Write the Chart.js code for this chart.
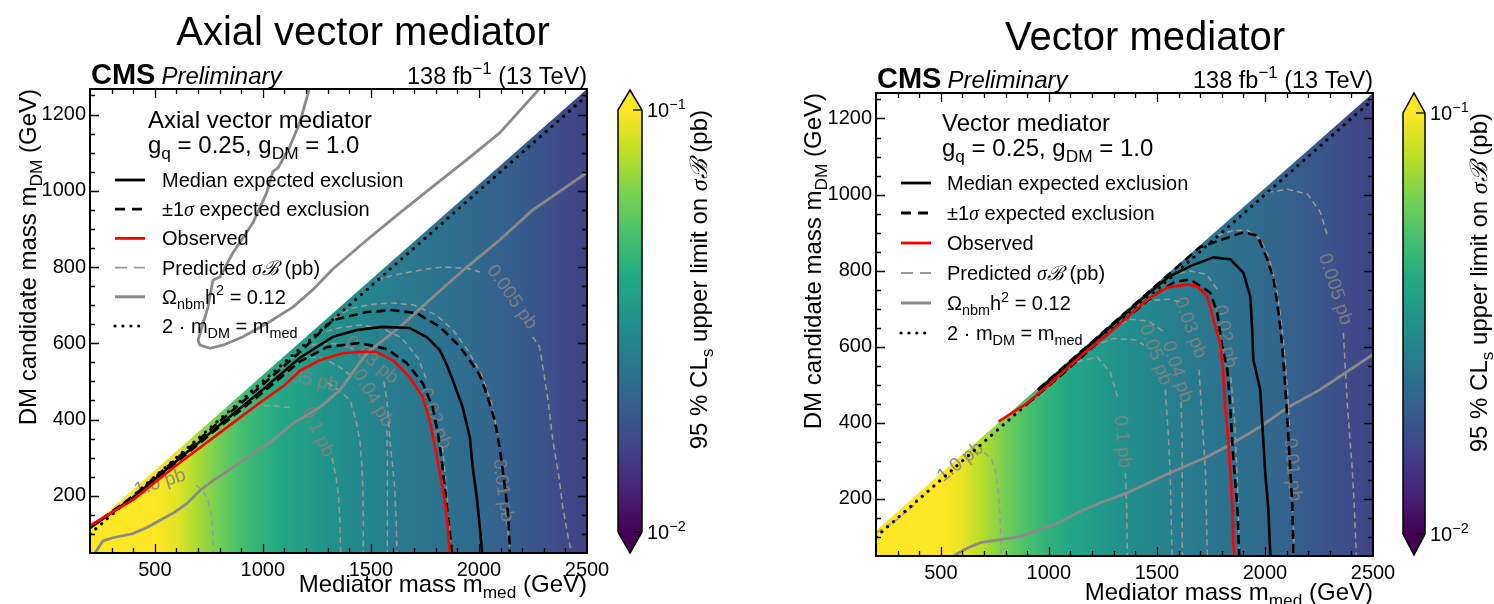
<!DOCTYPE html>
<html><head><meta charset="utf-8">
<script src="https://cdn.jsdelivr.net/npm/chart.js@4.4.1/dist/chart.umd.min.js"></script>
<style>
html,body{margin:0;padding:0;background:#fff;}
#wrap{position:relative;width:1494px;height:604px;overflow:hidden;background:#fff;}
canvas{position:absolute;top:0;}
</style></head><body>
<div id="wrap"><canvas id="cA" width="747" height="604" style="left:0;width:747px;height:604px"></canvas><canvas id="cV" width="747" height="604" style="left:747px;width:747px;height:604px"></canvas></div>
<script>
// ================= DATA =================
const xMajorTicks = [500, 1000, 1500, 2000, 2500];
const yMajorTicks = [200, 400, 600, 800, 1000, 1200];
const cbarTicks = [0.01, 0.1];

// heat-map: 95% CLs upper limit (pb) per mediator-mass column
const medGrid = [200,300,400,500,600,700,800,900,1000,1100,1200,1300,1400,1500,1600,1700,1800,1900,2000,2100,2200,2300,2400,2500];
const axialLimit  = [0.112,0.112,0.112,0.105,0.091,0.074,0.060,0.050,0.0437,0.0389,0.0355,0.0324,0.0302,0.0282,0.0263,0.0251,0.0240,0.0229,0.0219,0.0204,0.0191,0.0178,0.0166,0.0155];
const vectorLimit = [0.112,0.112,0.112,0.106,0.093,0.076,0.061,0.051,0.0440,0.0392,0.0357,0.0326,0.0303,0.0283,0.0264,0.0251,0.0240,0.0229,0.0219,0.0205,0.0192,0.0179,0.0167,0.0156];

// ---- Axial vector panel contours [m_med, m_DM] ----
const axialObserved = [[200,122],[400,190],[600,280],[800,365],[1000,450],[1100,490],[1171,528],[1264,556],[1370,574],[1450,578],[1527,577],[1601,556],[1680,511],[1740,459],[1773,398],[1796,329],[1819,259],[1842,188],[1856,117],[1865,50]];
const axialMedian = [[200,116],[400,196],[600,291],[800,386],[1000,479],[1171,562],[1324,617],[1435,635],[1555,643],[1680,640],[1759,616],[1819,582],[1850,545],[1879,503],[1925,432],[1958,353],[1971,275],[1990,196],[2004,117],[2015,50]];
const axialMinus1 = [[200,117],[400,195],[600,288],[800,381],[1000,471],[1171,552],[1296,590],[1449,601],[1574,585],[1666,548],[1740,495],[1786,432],[1810,364],[1828,293],[1842,222],[1856,153],[1870,82],[1875,50]];
const axialPlus1 = [[200,118],[400,199],[600,297],[800,395],[1000,492],[1171,577],[1324,661],[1481,682],[1601,687],[1712,679],[1819,643],[1911,592],[1970,545],[2004,516],[2040,460],[2073,398],[2095,330],[2110,267],[2125,200],[2133,162],[2140,100],[2143,50]];
const axialRelicA = [[223,50],[260,82],[306,90],[399,101],[464,117],[524,136],[584,154],[649,180],[709,214],[769,240],[861,274],[954,311],[1046,345],[1139,390],[1264,432],[1356,477],[1449,550],[1481,574],[1634,643],[1786,721],[1944,800],[2096,871],[2249,950],[2406,1011],[2500,1048]];
const axialRelicB = [[1215,1268],[1171,1179],[1125,1116],[1070,1060],[1046,1050],[1018,995],[954,916],[861,837],[801,774],[769,766],[746,695],[723,652],[700,608],[709,595],[755,587],[815,595],[908,617],[1018,652],[1139,695],[1230,740],[1324,795],[1481,871],[1634,942],[1786,1011],[1944,1082],[2096,1152],[2249,1248],[2281,1268]];
const axialPred = {
  p1_0:  [[330,168],[372,182],null,[690,228],[720,215],[745,190],[760,155],[768,110],[772,50]],
  p0_1:  [[865,432],[950,436],[1050,436],[1130,431],null,[1320,300],[1338,250],[1350,200],[1356,140],[1360,50]],
  p0_05: [[1020,510],[1080,512],[1110,511],null,[1300,496],[1350,478],[1403,451],[1430,400],[1449,345],[1458,280],[1463,214],[1465,130],[1465,50]],
  p0_04: [[1125,562],[1200,566],[1280,560],[1350,540],[1420,510],null,[1574,372],[1576,300],[1576,200],[1576,50]],
  p0_03: [[1180,590],[1260,600],[1350,598],[1420,585],null,[1560,500],[1574,450],[1588,345],[1600,280],[1611,214],[1617,130],[1620,50]],
  p0_02: [[1250,625],[1350,640],[1450,648],[1550,640],[1640,615],[1720,560],[1760,500],null,[1830,330],[1845,250],[1860,150],[1870,50]],
  p0_01: [[1330,665],[1400,690],[1500,702],[1600,706],[1700,700],[1800,675],[1880,635],[1950,580],[2010,520],[2060,440],[2090,350],null,[2125,160],[2135,100],[2145,50]],
  p0_005:[[1527,766],[1600,778],[1680,787],[1760,795],[1833,800],[1944,797],[2004,787],null,[2249,617],[2281,590],[2320,450],[2342,345],[2370,250],[2388,170],[2410,100],[2429,50]]
};
const axialLabels = [[524,234,-18,'1.0 pb'],[1255,367,65,'0.1 pb'],[1205,505,12,'0.05 pb'],[1509,456,60,'0.04 pb'],[1504,556,40,'0.03 pb'],[1796,403,70,'0.02 pb'],[2110,214,82,'0.01 pb'],[2152,721,55,'0.005 pb']];

// ---- Vector panel contours ----
const vectorObserved = [[767,403],[900,452],[1000,500],[1145,575],[1298,645],[1455,724],[1548,756],[1641,764],[1687,759],[1733,732],[1761,672],[1793,610],[1807,532],[1816,443],[1830,356],[1840,269],[1849,180],[1853,93],[1858,50]];
const vectorMedian = [[950,485],[1050,535],[1150,585],[1250,635],[1350,685],[1450,735],[1550,782],[1654,812],[1761,835],[1839,830],[1900,795],[1932,732],[1941,645],[1946,566],[1978,488],[1992,356],[2001,269],[2015,180],[2025,50]];
const vectorMinus1 = [[900,450],[1050,522],[1200,598],[1350,672],[1500,740],[1580,770],[1654,777],[1747,742],[1779,690],[1802,601],[1826,540],[1839,443],[1853,311],[1872,180],[1881,50]];
const vectorPlus1 = [[950,488],[1100,563],[1250,638],[1400,713],[1550,788],[1700,862],[1808,883],[1900,901],[1965,892],[2011,830],[2040,777],[2063,690],[2080,601],[2095,488],[2109,356],[2118,269],[2127,180],[2132,50]];
const vectorRelic = [[558,50],[623,71],[683,85],[776,93],[868,101],[960,120],[1053,140],[1145,167],[1238,190],[1363,216],[1562,269],[1733,311],[1840,343],[1979,390],[2104,440],[2257,488],[2382,535],[2500,580]];
const vectorPred = {
  p1_0:  [[205,112],[300,147],[390,190],null,[700,322],[735,305],[755,270],[768,210],[775,140],[780,50]],
  p0_1:  [[1090,548],[1145,562],[1224,573],[1285,532],[1317,469],null,[1354,269],[1360,180],[1363,50]],
  p0_05: [[1200,602],[1300,622],[1400,618],[1440,605],null,[1539,488],[1554,356],[1562,250],[1570,50]],
  p0_04: [[1290,650],[1378,672],[1460,668],[1530,640],null,[1612,455],[1617,356],[1617,200],[1617,50]],
  p0_03: [[1400,705],[1480,722],[1560,725],[1605,718],null,[1695,540],[1710,400],[1725,269],[1733,50]],
  p0_02: [[1560,785],[1650,800],[1730,790],[1780,750],null,[1842,520],[1860,400],[1872,250],[1882,50]],
  p0_01: [[1780,892],[1850,905],[1920,906],[1980,882],[2020,832],[2050,765],[2070,690],[2090,590],[2105,480],[2115,380],null,[2128,180],[2133,110],[2136,50]],
  p0_005:[[2011,1006],[2104,1014],[2197,1001],[2257,953],[2290,890],null,[2363,637],[2372,540],[2382,443],[2405,269],[2415,160],[2423,50]]
};
const vectorLabels = [[591,297,-38,'1.0 pb'],[1340,350,85,'0.1 pb'],[1493,579,70,'0.05 pb'],[1594,534,72,'0.04 pb'],[1654,650,70,'0.03 pb'],[1816,627,80,'0.02 pb'],[2127,277,85,'0.01 pb'],[2325,751,72,'0.005 pb']];

// ================= HELPERS =================
const FONT = '"Liberation Sans", Arial, Helvetica, sans-serif';
const SERIF = '"Liberation Serif", "DejaVu Serif", serif';
const VIR = ['#440154','#482475','#414487','#355f8d','#2a788e','#21918c','#22a884','#44bf70','#7ad151','#bddf26','#fde725'];
function hex(h){return [parseInt(h.slice(1,3),16),parseInt(h.slice(3,5),16),parseInt(h.slice(5,7),16)];}
function vir(t){t=Math.max(0,Math.min(1,t));const s=t*10,i=Math.min(9,Math.floor(s)),f=s-i;const a=hex(VIR[i]),b=hex(VIR[i+1]);
  return 'rgb('+a.map((v,k)=>Math.round(v+(b[k]-v)*f)).join(',')+')';}
const cmin=0.01,cmax=0.1;
function tOf(v){return Math.log10(v/cmin)/Math.log10(cmax/cmin);}

function fontFor(s,base){const sz=(s.sub||s.sup)?base*0.72:base;return (s.it?'italic ':'')+(s.b?'bold ':'')+sz+'px '+(s.fam||FONT);}
function richW(ctx,segs,base){let w=0;segs.forEach(s=>{ctx.font=fontFor(s,base);w+=ctx.measureText(s.t).width;});return w;}
function drawRich(ctx,x,y,segs,base,align){
  const w=richW(ctx,segs,base);
  let cx=align==='right'?x-w:align==='center'?x-w/2:x;
  ctx.textBaseline='alphabetic';ctx.textAlign='left';
  segs.forEach(s=>{ctx.font=fontFor(s,base);const dy=s.sub?base*0.26:s.sup?-base*0.42:0;ctx.fillText(s.t,cx,y+dy);cx+=ctx.measureText(s.t).width;});
}
function lineDs(pts,style){
  const out=[];let cur=[];
  pts.forEach(p=>{if(p===null){if(cur.length)out.push(cur);cur=[];}else cur.push({x:p[0],y:p[1]});});
  if(cur.length)out.push(cur);
  return out.map(d=>Object.assign({data:d,showLine:true,pointRadius:0,pointHoverRadius:0,fill:false,tension:0,borderJoinStyle:'round'},style));
}
const ST = {
  red:{borderColor:'#ff0000',borderWidth:2.6},
  med:{borderColor:'#000000',borderWidth:2.6},
  dash:{borderColor:'#000000',borderWidth:2.6,borderDash:[9,5]},
  dot:{borderColor:'#000000',borderWidth:3.2,borderDash:[0.1,7.6],borderCapStyle:'round'},
  relic:{borderColor:'#8a8a8a',borderWidth:2.8},
  pred:{borderColor:'#9a9a9a',borderWidth:1.5,borderDash:[6,4]}
};
const diagLine = [[200,100],[2500,1250]];
const diagEdge = 17;

function makePanel(id, P){
  const ctxEl=document.getElementById(id);
  const ds=[].concat(
    lineDs(P.obs,ST.red), lineDs(P.med,ST.med), lineDs(P.m1,ST.dash), lineDs(P.p1,ST.dash),
    lineDs(diagLine,ST.dot),
    ...P.relic.map(r=>lineDs(r,ST.relic)),
    ...Object.values(P.pred).map(c=>lineDs(c,ST.pred))
  );
  const heat={id:'heat',beforeDatasetsDraw(chart){
    const {ctx,chartArea:a,scales:{x,y}}=chart;
    ctx.save();ctx.beginPath();ctx.rect(a.left,a.top,a.right-a.left,a.bottom-a.top);ctx.clip();
    ctx.beginPath();
    ctx.moveTo(x.getPixelForValue(200),y.getPixelForValue(50));
    ctx.lineTo(x.getPixelForValue(200),y.getPixelForValue(100+diagEdge));
    ctx.lineTo(x.getPixelForValue(2500),y.getPixelForValue(1250+diagEdge));
    ctx.lineTo(x.getPixelForValue(2500),y.getPixelForValue(50));
    ctx.closePath();
    const x0=x.getPixelForValue(medGrid[0]),x1=x.getPixelForValue(medGrid[medGrid.length-1]);
    const g=ctx.createLinearGradient(x0,0,x1,0);
    medGrid.forEach((m,i)=>g.addColorStop((x.getPixelForValue(m)-x0)/(x1-x0),vir(tOf(P.lim[i]))));
    ctx.fillStyle=g;ctx.fill();
    // contour labels
    ctx.fillStyle='rgba(130,130,130,0.9)';ctx.font='19px '+FONT;ctx.textAlign='center';ctx.textBaseline='middle';
    P.labels.forEach(L=>{ctx.save();ctx.translate(x.getPixelForValue(L[0]),y.getPixelForValue(L[1]));ctx.rotate(L[2]*Math.PI/180);ctx.fillText(L[3],0,0);ctx.restore();});
    ctx.restore();
  }};
  const frame={id:'frame',afterDatasetsDraw(chart){
    const {ctx,chartArea:a,scales:{x,y}}=chart;
    ctx.save();ctx.strokeStyle='#000';ctx.lineWidth=1.3;ctx.beginPath();
    for(let v=300;v<2500;v+=100){const px=Math.round(x.getPixelForValue(v))+0.5;const L=(v%500===0)?9:5;
      ctx.moveTo(px,a.bottom);ctx.lineTo(px,a.bottom-L);ctx.moveTo(px,a.top);ctx.lineTo(px,a.top+L);}
    for(let v=100;v<1267;v+=50){const py=Math.round(y.getPixelForValue(v))+0.5;const L=(v%200===0)?9:5;
      ctx.moveTo(a.left,py);ctx.lineTo(a.left+L,py);ctx.moveTo(a.right,py);ctx.lineTo(a.right-L,py);}
    ctx.stroke();
    ctx.lineWidth=2;ctx.strokeRect(a.left,a.top,a.right-a.left,a.bottom-a.top);
    ctx.restore();
  }};
  const deco={id:'deco',afterDraw(chart){
    const {ctx,chartArea:a}=chart;
    ctx.save();ctx.fillStyle='#000';
    ctx.font='40px '+FONT;ctx.textAlign='center';ctx.textBaseline='alphabetic';ctx.fillText(P.title,P.titleX,P.titleY);
    ctx.textAlign='left';ctx.font='bold 29px '+FONT;ctx.fillText('CMS',a.left+1,a.top-5);
    const wc=ctx.measureText('CMS').width;ctx.font='italic 24px '+FONT;ctx.fillText('Preliminary',a.left+1+wc+6,a.top-5);
    drawRich(ctx,a.right,a.top-5,[{t:'138 fb'},{t:'\u22121',sup:1},{t:' (13 TeV)'}],23.5,'right');
    drawRich(ctx,a.right,P.xtY,[{t:'Mediator mass m'},{t:'med',sub:1},{t:' (GeV)'}],24,'right');
    ctx.save();ctx.translate(P.ytX,a.top);ctx.rotate(-Math.PI/2);
    drawRich(ctx,0,0,[{t:'DM candidate mass m'},{t:'DM',sub:1},{t:' (GeV)'}],24,'right');ctx.restore();
    const lx=a.left;
    drawRich(ctx,lx+P.hdX,P.hdY,[{t:P.title}],24,'left');
    drawRich(ctx,lx+P.hdX,P.hdY+25,[{t:'g'},{t:'q',sub:1},{t:' = 0.25, g'},{t:'DM',sub:1},{t:' = 1.0'}],24,'left');
    const items=[
      {st:{c:'#000',w:2.8},segs:[{t:'Median expected exclusion'}]},
      {st:{c:'#000',w:2.8,d:[10,7]},segs:[{t:'\u00b11'},{t:'\u03c3',it:1,fam:SERIF},{t:' expected exclusion'}]},
      {st:{c:'#ff0000',w:2.8},segs:[{t:'Observed'}]},
      {st:{c:'#9a9a9a',w:1.8,d:[12,7]},segs:[{t:'Predicted '},{t:'\u03c3',it:1,fam:SERIF},{t:'\u212c',it:1,fam:SERIF},{t:' (pb)'}]},
      {st:{c:'#8a8a8a',w:3},segs:[{t:'\u03a9'},{t:'nbm',sub:1},{t:'h'},{t:'2',sup:1},{t:' = 0.12'}]},
      {st:{c:'#000',w:3.2,d:[0.1,7.8],cap:'round'},segs:[{t:'2 \u00b7 m'},{t:'DM',sub:1},{t:' = m'},{t:'med',sub:1}]}
    ];
    items.forEach((it,i)=>{const by=P.enY+P.enDy*i;
      ctx.save();ctx.strokeStyle=it.st.c;ctx.lineWidth=it.st.w;ctx.setLineDash(it.st.d||[]);ctx.lineCap=it.st.cap||'butt';
      ctx.beginPath();ctx.moveTo(lx+25,by-7);ctx.lineTo(lx+55,by-7);ctx.stroke();ctx.restore();
      drawRich(ctx,lx+P.txX,by,it.segs,20,'left');});
    const c=P.cb;
    const grad=ctx.createLinearGradient(0,c.yb,0,c.yt);
    VIR.forEach((h,i)=>grad.addColorStop(i/10,h));
    ctx.fillStyle=grad;ctx.fillRect(c.x0,c.yt,c.x1-c.x0,c.yb-c.yt);
    ctx.fillStyle=VIR[10];ctx.beginPath();ctx.moveTo(c.x0,c.yt);ctx.lineTo((c.x0+c.x1)/2,c.tt);ctx.lineTo(c.x1,c.yt);ctx.closePath();ctx.fill();
    ctx.fillStyle=VIR[0];ctx.beginPath();ctx.moveTo(c.x0,c.yb);ctx.lineTo((c.x0+c.x1)/2,c.tb);ctx.lineTo(c.x1,c.yb);ctx.closePath();ctx.fill();
    ctx.strokeStyle='#000';ctx.lineWidth=1.5;ctx.beginPath();
    ctx.moveTo(c.x0,c.yt);ctx.lineTo((c.x0+c.x1)/2,c.tt);ctx.lineTo(c.x1,c.yt);ctx.lineTo(c.x1,c.yb);ctx.lineTo((c.x0+c.x1)/2,c.tb);ctx.lineTo(c.x0,c.yb);ctx.closePath();ctx.stroke();
    ctx.fillStyle='#000';ctx.lineWidth=1.3;
    cbarTicks.forEach(v=>{const py=c.yb-(c.yb-c.yt)*tOf(v);
      ctx.beginPath();ctx.moveTo(c.x1-9,py);ctx.lineTo(c.x1,py);ctx.stroke();
      drawRich(ctx,c.x1+5,py+7,[{t:'10'},{t:'\u2212'+Math.round(-Math.log10(v)),sup:1}],20,'left');});
    ctx.save();ctx.translate(c.lx,c.yt);ctx.rotate(-Math.PI/2);
    drawRich(ctx,0,0,[{t:'95 % CL'},{t:'s',sub:1},{t:' upper limit on '},{t:'\u03c3',it:1,fam:SERIF},{t:'\u212c',it:1,fam:SERIF},{t:' (pb)'}],24,'right');
    ctx.restore();
    ctx.restore();
  }};
  return new Chart(ctxEl,{type:'scatter',data:{datasets:ds},
    options:{responsive:false,animation:false,events:[],
      layout:{padding:{left:P.padL,right:P.padR,top:P.padT,bottom:0}},
      plugins:{legend:{display:false},tooltip:{enabled:false},title:{display:false}},
      scales:{
        x:{type:'linear',min:200,max:2500,afterFit(s){s.height=P.xH;},afterBuildTicks(s){s.ticks=xMajorTicks.map(v=>({value:v}));},
           ticks:{font:{size:20,family:FONT},color:'#000',padding:5,maxRotation:0,autoSkip:false,callback:v=>String(v)},grid:{display:false,drawTicks:false},border:{display:false}},
        y:{type:'linear',min:50,max:1267,afterFit(s){s.width=90;},afterBuildTicks(s){s.ticks=yMajorTicks.map(v=>({value:v}));},
           ticks:{font:{size:20,family:FONT},color:'#000',padding:4,autoSkip:false,callback:v=>String(v)},grid:{display:false,drawTicks:false},border:{display:false}}
      }},
    plugins:[heat,frame,deco]});
}

makePanel('cA',{lim:axialLimit,obs:axialObserved,med:axialMedian,m1:axialMinus1,p1:axialPlus1,relic:[axialRelicA,axialRelicB],pred:axialPred,labels:axialLabels,
  title:'Axial vector mediator',titleX:363,titleY:45,padL:0,padR:160,padT:89,xH:51,xtY:592,ytX:36,
  hdX:58,hdY:128,enY:187,enDy:29.2,txX:72,
  cb:{x0:618,x1:642,yt:110,yb:532,tt:90,tb:553,lx:707}});
makePanel('cV',{lim:vectorLimit,obs:vectorObserved,med:vectorMedian,m1:vectorMinus1,p1:vectorPlus1,relic:[vectorRelic],pred:vectorPred,labels:vectorLabels,
  title:'Vector mediator',titleX:1145-747,titleY:50,padL:39,padR:121,padT:93,xH:48,xtY:600,ytX:821-747,
  hdX:66,hdY:131,enY:190,enDy:30,txX:71,
  cb:{x0:1403-747,x1:1425-747,yt:113,yb:534,tt:93,tb:555,lx:1487-747}});
</script></body></html>
